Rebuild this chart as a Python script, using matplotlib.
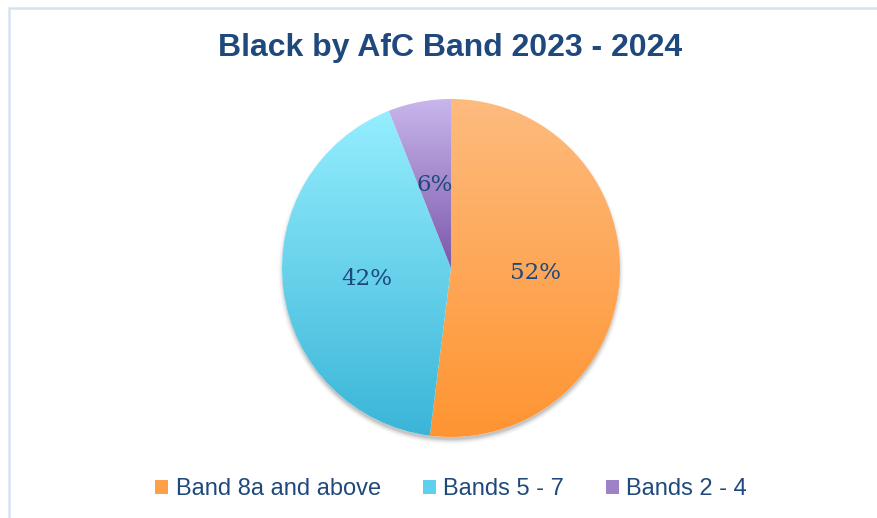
import matplotlib
matplotlib.use("Agg")
import matplotlib.pyplot as plt
import numpy as np
from matplotlib.patches import Rectangle, Circle, Patch
from matplotlib.colors import LinearSegmentedColormap

# ---- data ----
categories = ["Band 8a and above", "Bands 5 - 7", "Bands 2 - 4"]
values = [52, 42, 6]
title = "Black by AfC Band 2023 - 2024"

# gradient colours (top, bottom) per slice
grad_top = ["#FDBB7E", "#95EEFE", "#C9B6EC"]
grad_bottom = ["#FF9431", "#3AB5D8", "#7B58AB"]
legend_colors = ["#FE9F4A", "#5FD0EC", "#9D82C8"]

TEXT_BLUE = "#1F497D"

W, H = 878, 518
fig = plt.figure(figsize=(W / 100, H / 100), dpi=100)
ax = fig.add_axes([0, 0, 1, 1])
ax.set_xlim(0, W)
ax.set_ylim(0, H)
ax.set_aspect("equal")
ax.axis("off")

# chart border
ax.add_patch(Rectangle((9, -5), W, H - 8 + 5, fill=False, ec="#D6E2F1", lw=1.8, zorder=0))

cx, cy, R = 451, H - 268, 169

# soft shadow (mostly below)
for i, a in enumerate(np.linspace(0.05, 0.01, 8)):
    ax.add_patch(Circle((cx, cy - 3.5), R - 1 + i * 0.7, color="black", alpha=a, lw=0, zorder=1))
ax.add_patch(Circle((cx, cy), R, color="white", lw=0, zorder=1.5))

wedges, texts, autotexts = ax.pie(
    values, startangle=90, counterclock=False, center=(cx, cy), radius=R,
    autopct="%.0f%%", pctdistance=0.5, frame=True,
    wedgeprops=dict(linewidth=0),
    textprops=dict(family="DejaVu Serif", fontsize=16.5, color=TEXT_BLUE),
)
ax.set_xlim(0, W)
ax.set_ylim(0, H)
ax.axis("off")

for w, top, bot in zip(wedges, grad_top, grad_bottom):
    w.set_facecolor("none")
    verts = w.get_path().vertices
    x0, x1 = verts[:, 0].min(), verts[:, 0].max()
    y0, y1 = verts[:, 1].min(), verts[:, 1].max()
    cmap = LinearSegmentedColormap.from_list("g", [bot, top])
    grad = np.linspace(0, 1, 256).reshape(-1, 1)
    im = ax.imshow(grad, cmap=cmap, extent=[x0, x1, y0, y1], origin="lower",
                   aspect="auto", zorder=2, interpolation="bilinear")
    im.set_clip_path(w)
for t in autotexts:
    t.set_zorder(5)

ax.set_xlim(0, W)
ax.set_ylim(0, H)

fig.text(450 / W, 1 - 48 / H, title, ha="center", va="center",
         fontsize=23, fontweight="bold", color=TEXT_BLUE, family="Liberation Sans")

handles = [Patch(facecolor=c, edgecolor="none") for c in legend_colors]
leg = fig.legend(handles, categories, loc="center", bbox_to_anchor=(451 / W, 1 - 489 / H),
                 ncol=3, frameon=False, handlelength=0.55, handleheight=0.55,
                 handletextpad=0.3, columnspacing=1.78, prop=dict(family="Liberation Sans", size=17))
for t in leg.get_texts():
    t.set_color(TEXT_BLUE)

fig.savefig("out.png", dpi=100)
